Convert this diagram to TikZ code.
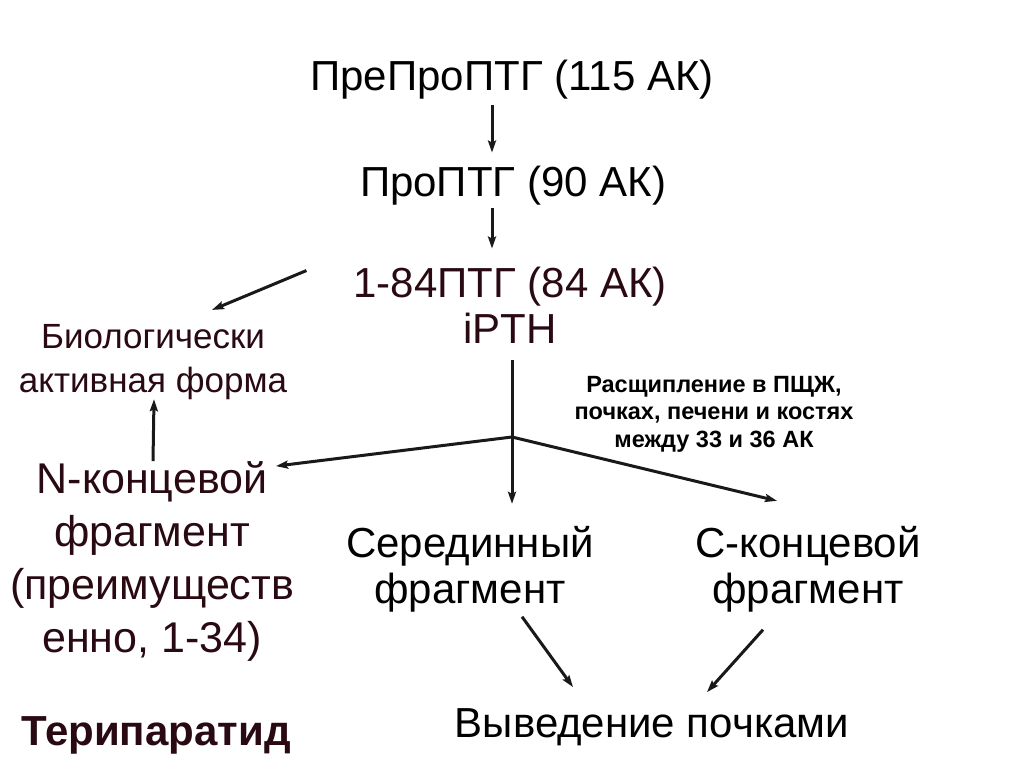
\documentclass[tikz,border=0pt]{standalone}
\usepackage{fontspec}
\setmainfont{Liberation Sans}
\usetikzlibrary{arrows.meta}
\definecolor{wine}{HTML}{2A0A12}

\begin{document}
\begin{tikzpicture}[x=1pt, y=-1pt, >={Stealth[length=12pt,width=8pt,inset=2pt]},
    txt/.style={inner sep=0pt, outer sep=0pt, align=center, anchor=base},
    big/.style={txt, font=\fontsize{42}{46}\selectfont},
    conn/.style={->, line width=3pt, color=black!90}]
  \useasboundingbox[fill=white] (0,0) rectangle (1024,768);

  % base anchor sits on the last line
  \node[big] (prepro) at (512,90) {ПреПроПТГ (115 АК)};
  \node[big] (pro) at (513,196) {ПроПТГ (90 АК)};
  \node[big, wine] (ptg84) at (510,343) {1-84ПТГ (84 АК)\\iPTH};
  \node[txt, wine, font=\fontsize{35}{44}\selectfont] (bio) at (153,392) {Биологически\\активная форма};
  \node[txt, wine, font=\fontsize{43}{53}\selectfont] (nterm) at (152,652) {N-концевой\\фрагмент\\(преимуществ\\енно, 1-34)};
  \node[txt, wine, font=\fontsize{42}{48}\bfseries] (teri) at (156,745) {Терипаратид};
  \node[big] (mid) at (470,603) {Серединный\\фрагмент};
  \node[big] (cterm) at (808,603) {С-концевой\\фрагмент};
  \node[big] (exit) at (652,737) {Выведение почками};
  \node[txt, font=\fontsize{23.5}{27.5}\bfseries] (note) at (714,447) {Расщипление в ПЩЖ,\\почках, печени и костях\\между 33 и 36 АК};

  \draw[conn, shorten <=6pt, shorten >=13pt] ([xshift=-20pt]prepro.south) -- ([xshift=-21pt]pro.north);
  \draw[conn, shorten <=3pt, shorten >=18pt] ([xshift=-21pt]pro.south) -- ([xshift=-18pt]ptg84.north);
  \draw[conn] ([xshift=-47pt,yshift=-4pt]ptg84.north west) -- ([xshift=59pt,yshift=14pt]bio.north);
  \draw[conn] ([xshift=1pt]nterm.north) -- ([xshift=1pt]bio.south);

  \coordinate (split) at ([xshift=2pt,yshift=-94pt]ptg84.south);
  \draw[line width=3pt, black!90, shorten <=17pt] ([xshift=2pt]ptg84.south) -- (split);
  \draw[conn, shorten >=22pt] (split) -- (split |- mid.north);
  \draw[conn] (split) -- ([xshift=-18pt,yshift=-5pt]nterm.north east);
  \draw[conn] (split) -- ([xshift=-31pt,yshift=25pt]cterm.north);

  \draw[conn] ([xshift=52pt,yshift=-5pt]mid.south) -- ([xshift=-79pt,yshift=21pt]exit.north);
  \draw[conn] ([xshift=-45pt,yshift=-18pt]cterm.south) -- ([xshift=55pt,yshift=16pt]exit.north);
\end{tikzpicture}
\end{document}
